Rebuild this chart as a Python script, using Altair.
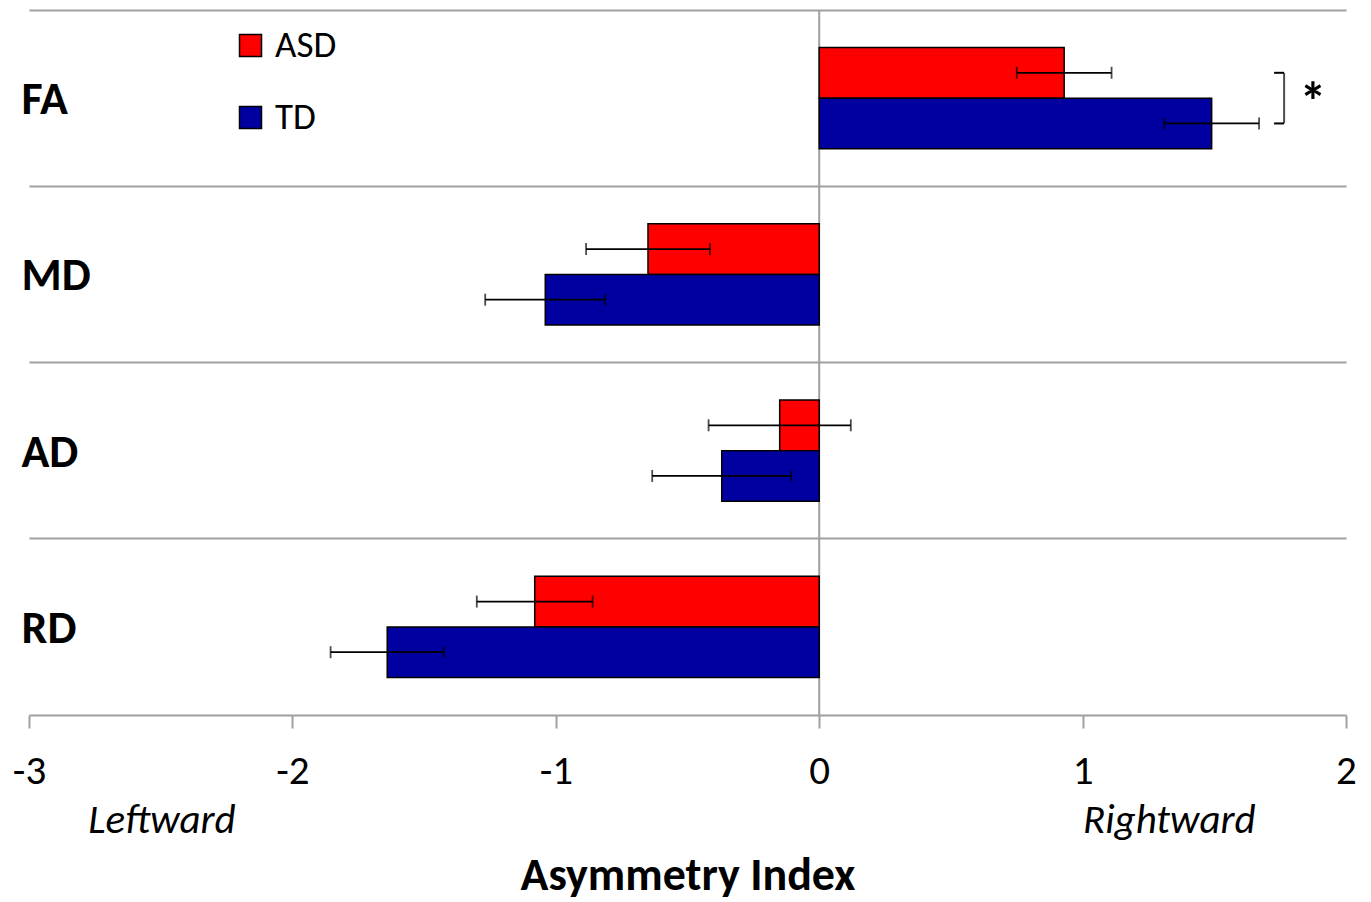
import altair as alt
import pandas as pd

categories = ["FA", "MD", "AD", "RD"]
groups = ["ASD", "TD"]
asd_values = [0.93, -0.65, -0.15, -1.08]
asd_errors = [0.18, 0.235, 0.27, 0.22]
td_values = [1.49, -1.04, -0.37, -1.64]
td_errors = [0.18, 0.228, 0.264, 0.215]
x_ticks = [-3, -2, -1, 0, 1, 2]
direction_labels = ["Leftward", "Rightward"]
direction_x = [-2.495, 1.329]

FONT = "Carlito, Lato"
GRAY = "#a0a0a0"

rows = []
for i, c in enumerate(categories):
    rows.append(dict(cat=c, group="ASD", value=asd_values[i],
                     lo=asd_values[i] - asd_errors[i], hi=asd_values[i] + asd_errors[i]))
    rows.append(dict(cat=c, group="TD", value=td_values[i],
                     lo=td_values[i] - td_errors[i], hi=td_values[i] + td_errors[i]))
df = pd.DataFrame(rows)

xscale = alt.Scale(domain=[-3, 2], nice=False, zero=False)
yscale = alt.Scale(domain=categories, paddingInner=0, paddingOuter=0)
yoff_scale = alt.Scale(domain=groups, paddingInner=0, paddingOuter=0.74)

y_axis = alt.Axis(title=None, ticks=False, domain=False, grid=True, bandPosition=0,
                  gridColor=GRAY, gridWidth=2, labelAlign="left", labelPadding=8,
                  labelFont=FONT, labelFontSize=46, labelFontWeight="bold",
                  labelColor="black", labelOffset=2)
x_axis = alt.Axis(title="Asymmetry Index", values=x_ticks, grid=False,
                  labelExpr="'' + datum.value", tickSize=13, tickWidth=2,
                  tickColor=GRAY, domainColor=GRAY, domainWidth=2, labelFlush=False,
                  labelFont=FONT, labelFontSize=41, labelPadding=23, labelColor="black",
                  titleFont=FONT, titleFontSize=46, titleFontWeight="bold",
                  titleColor="black", titlePadding=62)


def X(field):
    return alt.X(field, scale=xscale, axis=x_axis)


def Y():
    return alt.Y("cat:N", sort=categories, scale=yscale, axis=y_axis)


def YO():
    return alt.YOffset("group:N", sort=groups, scale=yoff_scale)


base = alt.Chart(df)

zero_rule = alt.Chart(pd.DataFrame({"z": [0]})).mark_rule(color=GRAY, strokeWidth=2).encode(
    x=X("z:Q")
)

bars = base.mark_bar(stroke="black", strokeWidth=1.5).encode(
    x=X("value:Q"),
    y=Y(),
    yOffset=YO(),
    color=alt.Color("group:N", sort=groups,
                    scale=alt.Scale(domain=groups, range=["#ff0000", "#0000a0"]),
                    legend=alt.Legend(title=None, orient="none", legendX=203, legendY=17,
                                      symbolType="square", symbolSize=484,
                                      symbolStrokeColor="black", symbolStrokeWidth=1.5,
                                      labelFont=FONT, labelFontSize=37, labelColor="black",
                                      labelOffset=6, rowPadding=34, padding=0)),
)

err = base.mark_rule(color="black", strokeWidth=1.8).encode(
    x=X("lo:Q"), x2="hi:Q", y=Y(), yOffset=YO(),
)
cap_lo = base.mark_tick(color="black", thickness=1.8, size=12, orient="vertical").encode(
    x=X("lo:Q"), y=Y(), yOffset=YO(),
)
cap_hi = base.mark_tick(color="black", thickness=1.8, size=12, orient="vertical").encode(
    x=X("hi:Q"), y=Y(), yOffset=YO(),
)

# significance bracket for FA
br_df = pd.DataFrame({"cat": ["FA", "FA"], "group": groups, "x0": [1.727, 1.727], "x1": [1.765, 1.765]})
br_ends = alt.Chart(br_df).mark_rule(color="black", strokeWidth=2).encode(
    x=X("x0:Q"), x2="x1:Q", y=Y(), yOffset=YO(),
)
br_vert = alt.Chart(pd.DataFrame({"cat": ["FA"], "x1": [1.765]})).mark_tick(
    color="black", thickness=2, size=50, orient="vertical").encode(
    x=X("x1:Q"), y=Y(),
)
star = alt.Chart(pd.DataFrame({"cat": ["FA"], "x": [1.875], "t": ["*"]})).mark_text(
    font=FONT, fontSize=54, fontWeight="bold", color="black", baseline="alphabetic", dy=22).encode(
    x=X("x:Q"), y=Y(), text="t:N",
)

dir_df = pd.DataFrame({"label": direction_labels, "x": direction_x})
dirs = alt.Chart(dir_df).mark_text(font=FONT, fontSize=41, fontStyle="italic", color="black",
                                   baseline="alphabetic", align="center").encode(
    x=X("x:Q"), y=alt.value(823), text="label:N",
)

chart = alt.layer(zero_rule, bars, err, cap_lo, cap_hi, br_ends, br_vert, star, dirs).properties(
    width=1317, height=705,
    padding={"left": 21, "top": 2, "right": 17, "bottom": 186},
    autosize=alt.AutoSizeParams(type="none"),
    background="white",
).configure_view(stroke=None)

chart.save("out.html", embed_options={"renderer": "svg", "actions": False})
